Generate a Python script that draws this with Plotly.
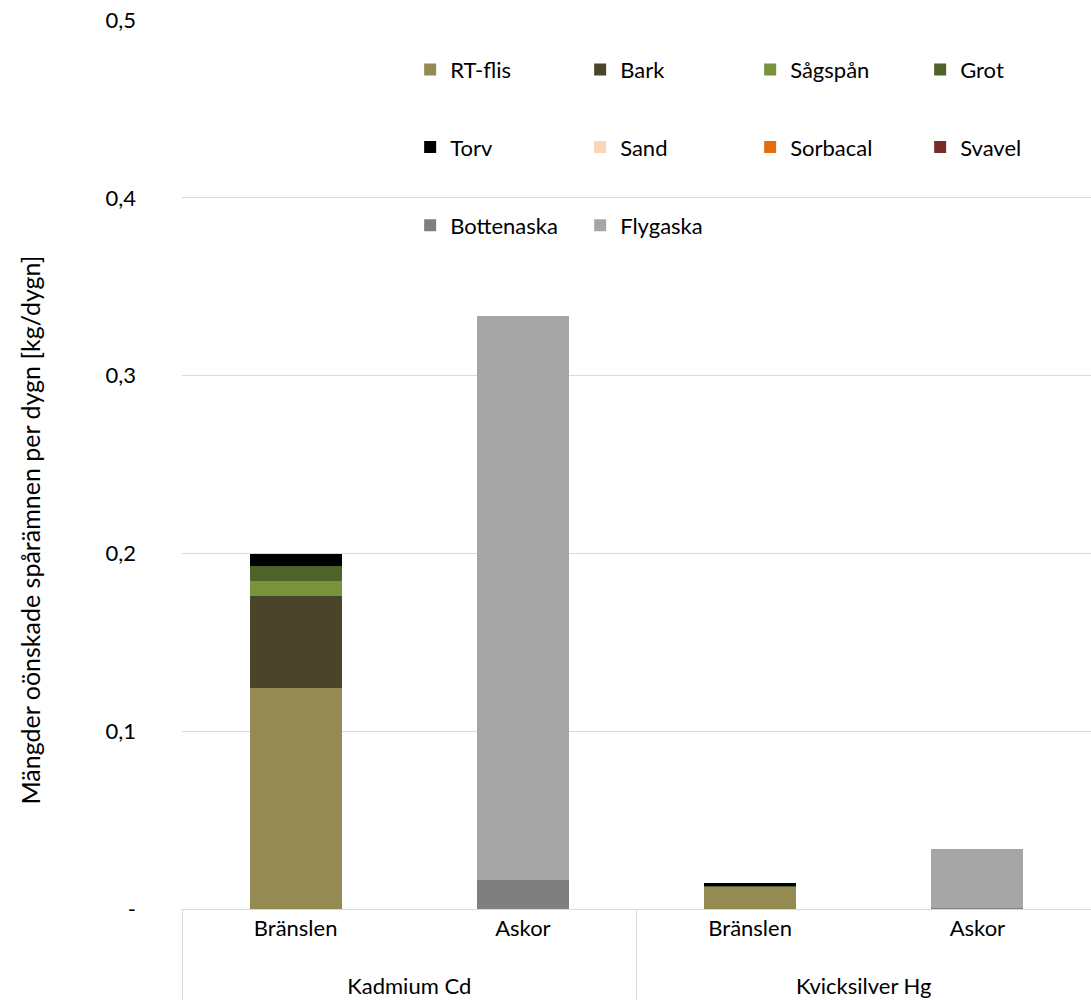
import plotly.graph_objects as go

groups = ["Kadmium Cd", "Kadmium Cd", "Kvicksilver Hg", "Kvicksilver Hg"]
subcats = ["Bränslen", "Askor", "Bränslen", "Askor"]

series_names = ["RT-flis", "Bark", "Sågspån", "Grot", "Torv", "Sand", "Sorbacal", "Svavel", "Bottenaska", "Flygaska"]
rt_flis = [0.1243, 0, 0.0125, 0]
bark = [0.052, 0, 0.0003, 0]
sagspan = [0.008, 0, 0.0001, 0]
grot = [0.0085, 0, 0.0001, 0]
torv = [0.007, 0, 0.0015, 0]
sand = [0, 0, 0, 0]
sorbacal = [0, 0, 0, 0]
svavel = [0, 0, 0, 0]
bottenaska = [0, 0.0163, 0, 0.0005]
flygaska = [0, 0.317, 0, 0.0332]
values = [rt_flis, bark, sagspan, grot, torv, sand, sorbacal, svavel, bottenaska, flygaska]
colors = ["#948A54", "#4A452A", "#77933C", "#4F6228", "#000000", "#FCD5B5", "#E46C0A", "#772C2A", "#7F7F7F", "#A6A6A6"]
legend_ids = ["legend"] * 4 + ["legend2"] * 4 + ["legend3"] * 2

tick_vals = [0, 0.1, 0.2, 0.3, 0.4, 0.5]
tick_text = ["-", "0,1", "0,2", "0,3", "0,4", "0,5"]
y_title = "Mängder oönskade spårämnen per dygn [kg/dygn]"

# trailing empty line adds space between category row and group row
sub_labels = [s + "<br> " for s in subcats]

FONT = "Lato"
fig = go.Figure()
for name, vals, col, lg in zip(series_names, values, colors, legend_ids):
    fig.add_trace(go.Bar(x=[groups, sub_labels], y=vals, name=name, marker_color=col,
                         marker_line_width=0, legend=lg))

leg_common = dict(orientation="h", entrywidth=125, entrywidthmode="pixels",
                  font=dict(family=FONT, size=22, color="#000"), bgcolor="rgba(0,0,0,0)",
                  xanchor="left", yanchor="middle", traceorder="normal")

fig.update_layout(
    width=1091, height=1000,
    margin=dict(l=182, r=0, t=20, b=91, autoexpand=False),
    paper_bgcolor="white", plot_bgcolor="white",
    barmode="stack", bargap=0.595,
    font=dict(family=FONT, size=22, color="#000"),
    legend=dict(x=0.251, y=0.944, **leg_common),
    legend2=dict(x=0.251, y=0.857, **leg_common),
    legend3=dict(x=0.251, y=0.769, **leg_common),
    yaxis=dict(range=[0, 0.5], tickvals=tick_vals, ticktext=tick_text,
               gridcolor="#D9D9D9", gridwidth=1, zeroline=False, showline=False,
               ticks="", ticklabelstandoff=45,
               tickfont=dict(family=FONT, size=22)),
    xaxis=dict(type="multicategory", showline=True, linecolor="#D9D9D9", linewidth=1,
               showdividers=True, dividercolor="#D9D9D9", dividerwidth=1,
               tickfont=dict(family=FONT, size=22)),
    annotations=[dict(text=y_title, textangle=-90, xref="paper", yref="paper",
                      x=-0.167, y=0.426, xanchor="center", yanchor="middle",
                      showarrow=False, font=dict(family=FONT, size=25, color="#000"))],
)
fig.write_html("out.html")
